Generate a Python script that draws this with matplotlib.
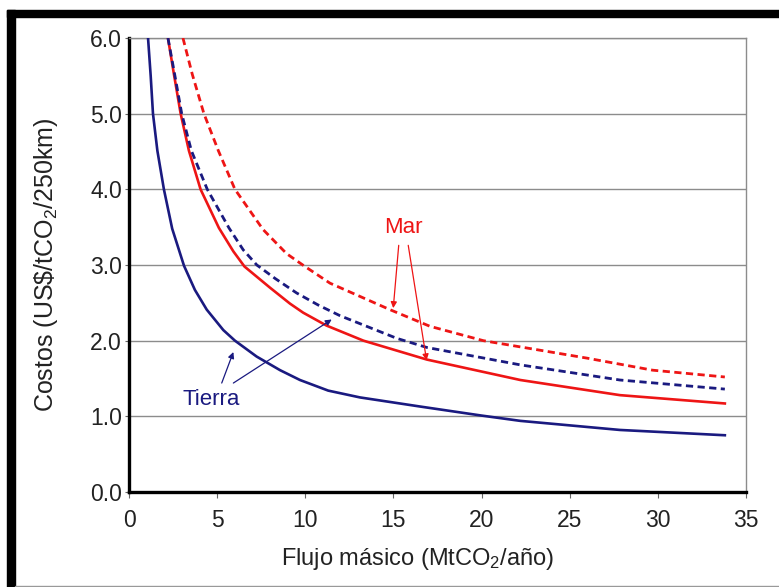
import matplotlib
matplotlib.use("Agg")
import matplotlib.pyplot as plt
from matplotlib.patches import Rectangle

plt.rcParams['font.family'] = ['Liberation Sans', 'DejaVu Sans']
plt.rcParams['mathtext.fontset'] = 'custom'
plt.rcParams['mathtext.rm'] = 'Liberation Sans'
plt.rcParams['mathtext.it'] = 'Liberation Sans:italic'
plt.rcParams['mathtext.bf'] = 'Liberation Sans:bold'

# Tierra (solid navy)
tierra_x = [1.08, 1.23, 1.36, 1.61, 1.98, 2.45, 3.12, 3.74, 4.41, 5.35, 6.01, 7.24, 8.57, 9.7,
            11.3, 13.1, 16.5, 20.0, 22.2, 27.85, 33.8]
tierra_y = [6.0, 5.5, 5.0, 4.51, 4.0, 3.48, 2.99, 2.67, 2.41, 2.14, 2.0, 1.79, 1.61, 1.48,
            1.34, 1.25, 1.13, 1.01, 0.94, 0.82, 0.75]

# Tierra (dashed navy)
tierra2_x = [2.21, 2.59, 2.99, 3.54, 4.44, 5.67, 6.48, 7.25, 8.3, 9.51, 10.74, 11.97, 15.2, 16.9,
             22.2, 27.85, 33.8]
tierra2_y = [6.0, 5.52, 5.0, 4.51, 4.0, 3.49, 3.20, 3.0, 2.82, 2.63, 2.47, 2.33, 2.03, 1.91,
             1.68, 1.48, 1.36]

# Mar (solid red)
mar_x = [2.21, 2.55, 2.93, 3.4, 4.06, 5.1, 5.92, 6.55, 8.0, 9.13, 9.88, 11.2, 13.3, 16.9,
         22.2, 27.85, 33.8]
mar_y = [6.0, 5.52, 5.0, 4.51, 4.0, 3.49, 3.18, 2.98, 2.70, 2.49, 2.37, 2.20, 2.0, 1.75,
         1.48, 1.28, 1.17]

# Mar (dashed red)
mar2_x = [3.06, 3.59, 4.25, 5.07, 6.01, 7.6, 8.94, 9.92, 11.4, 14.8, 17.07, 20.1, 25.96,
          29.7, 33.8]
mar2_y = [6.0, 5.52, 5.0, 4.51, 4.0, 3.47, 3.15, 2.99, 2.76, 2.41, 2.19, 2.0, 1.77,
          1.61, 1.52]

xticks = [0, 5, 10, 15, 20, 25, 30, 35]
yticks = [0.0, 1.0, 2.0, 3.0, 4.0, 5.0, 6.0]

navy = '#1a1a80'
red = '#ee1515'

fig = plt.figure(figsize=(7.79, 5.87), dpi=100)
ax = fig.add_axes([129/779, 1 - 492/587, (746 - 129)/779, (492 - 38)/587])

ax.plot(tierra_x, tierra_y, color=navy, lw=1.9, zorder=3)
ax.plot(mar_x, mar_y, color=red, lw=1.9, zorder=3)
ax.plot(tierra2_x, tierra2_y, color=navy, lw=2.0, linestyle=(0, (2.6, 1.6)), zorder=3)
ax.plot(mar2_x, mar2_y, color=red, lw=2.0, linestyle=(0, (2.6, 1.6)), zorder=3)

ax.set_xlim(0, 35)
ax.set_ylim(0, 6)
ax.set_xticks(xticks)
ax.set_yticks(yticks)
ax.set_yticklabels([f'{v:.1f}' for v in yticks])
ax.yaxis.grid(True, color='#8c8c8c', lw=1.0)
ax.set_axisbelow(True)

for s in ['top', 'right']:
    ax.spines[s].set_color('#8c8c8c')
    ax.spines[s].set_linewidth(1.0)
ax.spines['left'].set_linewidth(2.4)
ax.spines['bottom'].set_linewidth(2.4)

ax.tick_params(axis='y', length=3, width=0.8, color='#666666', pad=2, labelsize=16.5, labelcolor='#222222')
ax.tick_params(axis='x', length=4, width=0.8, color='#666666', pad=8, labelsize=16.5, labelcolor='#222222')

ax.set_ylabel('Costos (US\\$/tCO$_2$/250km)', fontsize=18, color='#222222')
ax.set_xlabel('Flujo másico (MtCO$_2$/año)', fontsize=17, color='#222222')
ax.yaxis.set_label_coords(-0.112, 0.5)
ax.xaxis.set_label_coords(0.467, -0.118)

# annotations
ax.text(15.55, 3.49, 'Mar', color=red, fontsize=16, ha='center', va='center')
arrow_red = dict(arrowstyle='-|>', color=red, lw=0.9, mutation_scale=9, shrinkA=0, shrinkB=0)
ax.annotate('', xy=(14.99, 2.43), xytext=(15.3, 3.26), arrowprops=arrow_red)
ax.annotate('', xy=(16.88, 1.74), xytext=(15.84, 3.26), arrowprops=arrow_red)

ax.text(4.69, 1.22, 'Tierra', color=navy, fontsize=16, ha='center', va='center')
arrow_navy = dict(arrowstyle='-|>', color=navy, lw=0.9, mutation_scale=9, shrinkA=0, shrinkB=0)
ax.annotate('', xy=(5.92, 1.85), xytext=(5.26, 1.44), arrowprops=arrow_navy)
ax.annotate('', xy=(11.5, 2.28), xytext=(5.92, 1.44), arrowprops=arrow_navy)

# picture frame
fig.patches.append(Rectangle((7/779, 1 - 17/587), 772/779, 7/587, transform=fig.transFigure,
                             color='black', zorder=0))
fig.patches.append(Rectangle((7/779, 0), 8/779, 1 - 10/587, transform=fig.transFigure,
                             color='black', zorder=0))
fig.patches.append(Rectangle((15/779, 0), 764/779, 1.5/587, transform=fig.transFigure,
                             color='#999999', zorder=0))

fig.savefig('out.png', dpi=100)
